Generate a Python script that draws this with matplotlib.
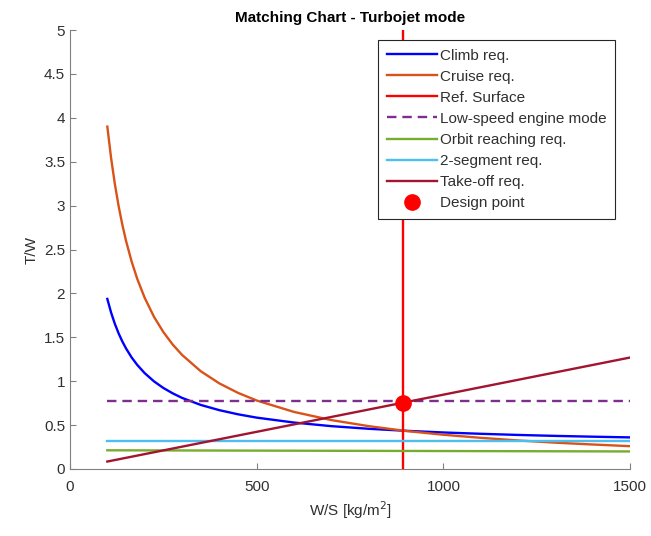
import matplotlib
matplotlib.use("Agg")
import matplotlib.pyplot as plt
import numpy as np
from matplotlib.ticker import FuncFormatter

plt.rcParams['font.family'] = ['Liberation Sans', 'DejaVu Sans']

# Wing loading samples [kg/m^2]
ws = [100, 110, 120, 130, 140, 150, 165, 180, 200, 225, 250, 275, 300, 350,
      400, 450, 500, 600, 700, 800, 900, 1000, 1100, 1200, 1300, 1400, 1500]

# Thrust-to-weight requirements
climb = [1.937, 1.783, 1.655, 1.547, 1.454, 1.374, 1.271, 1.186, 1.092, 0.998,
         0.923, 0.862, 0.810, 0.730, 0.670, 0.623, 0.585, 0.529, 0.488, 0.458,
         0.435, 0.416, 0.401, 0.388, 0.377, 0.368, 0.360]
cruise = [3.900, 3.545, 3.250, 3.000, 2.786, 2.600, 2.364, 2.167, 1.950, 1.733,
          1.560, 1.418, 1.300, 1.114, 0.975, 0.867, 0.780, 0.650, 0.557, 0.488,
          0.433, 0.390, 0.355, 0.325, 0.300, 0.279, 0.260]
orbit_ws = [100, 1500]
orbit = [0.213, 0.200]
seg2_ws = [100, 1500]
seg2 = [0.32, 0.32]
lowspeed_ws = [100, 1500]
lowspeed = [0.78, 0.78]
takeoff_ws = [100, 1500]
takeoff = [0.085, 1.27]

ref_ws = 893
ref_tw = [0, 5]
design_ws = 893
design_tw = 0.756

fig = plt.figure(figsize=(6.51, 5.36), dpi=100)
ax = fig.add_axes([0.1075, 0.125, 0.8605, 0.819])

lw = 1.7
ax.plot(ws, climb, color=(0, 0, 1), lw=lw, label='Climb req.')
ax.plot(ws, cruise, color='#D95319', lw=lw, label='Cruise req.')
ax.plot([ref_ws, ref_ws], ref_tw, color=(1, 0, 0), lw=lw, label='Ref. Surface')
ax.plot(lowspeed_ws, lowspeed, color='#7E2F8E', lw=lw, ls=(0, (4, 2.5)),
        label='Low-speed engine mode')
ax.plot(orbit_ws, orbit, color='#77AC30', lw=lw, label='Orbit reaching req.')
ax.plot(seg2_ws, seg2, color='#4DBEEE', lw=lw, label='2-segment req.')
ax.plot(takeoff_ws, takeoff, color='#A2142F', lw=lw, label='Take-off req.')
ax.plot([design_ws], [design_tw], 'o', color=(1, 0, 0), ms=11,
        label='Design point')

ax.set_xlim(0, 1500)
ax.set_ylim(0, 5)
ax.set_xticks([0, 500, 1000, 1500])
ax.set_yticks(np.arange(0, 5.01, 0.5))
ax.yaxis.set_major_formatter(FuncFormatter(lambda v, p: f'{v:g}'))

axcol = '#303030'
for s in ['top', 'right']:
    ax.spines[s].set_visible(False)
for s in ['left', 'bottom']:
    ax.spines[s].set_color('#808080')
    ax.spines[s].set_linewidth(0.8)
ax.tick_params(direction='in', length=4, width=0.8, colors='#808080',
               labelcolor=axcol, labelsize=11)
ax.tick_params(axis='x', pad=8)

ax.set_xlabel('W/S [kg/m$^2$]', fontsize=11, color=axcol)
ax.set_ylabel('T/W', fontsize=11, color=axcol)
ax.set_title('Matching Chart - Turbojet mode', fontsize=11, fontweight='bold',
             color='black')

leg = ax.legend(loc='upper right', bbox_to_anchor=(0.973, 0.977), fontsize=11,
                frameon=True, fancybox=False, handlelength=3.3,
                handletextpad=0.2, labelspacing=0.465, borderpad=0.55,
                borderaxespad=0.0)
leg.get_frame().set_edgecolor('#262626')
leg.get_frame().set_linewidth(0.8)
leg.get_frame().set_alpha(1.0)
for t in leg.get_texts():
    t.set_color(axcol)

fig.savefig('out.png', dpi=100)
